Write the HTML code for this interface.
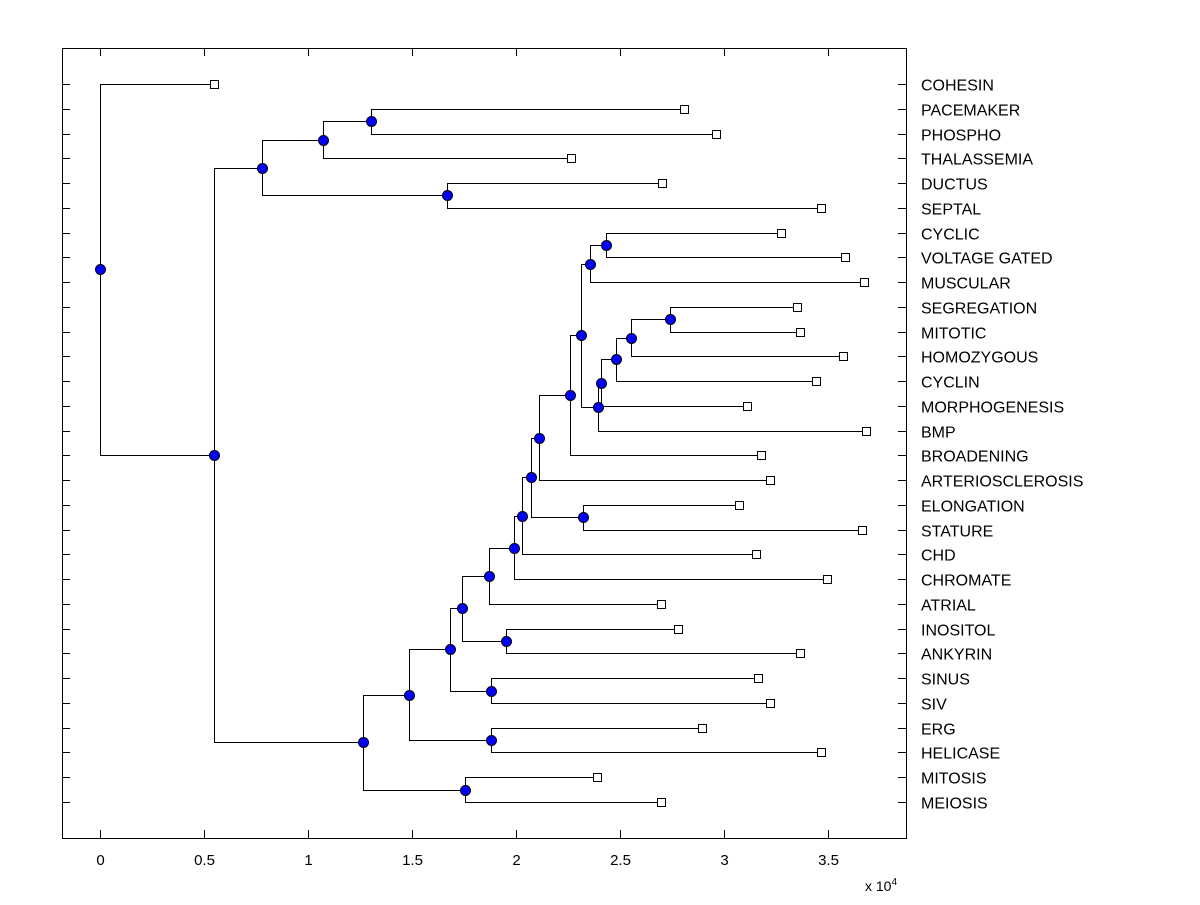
<!DOCTYPE html>
<html><head><meta charset="utf-8"><style>
body{margin:0;background:#fff;}
svg text{font-family:"Liberation Sans",Arial,sans-serif;}
</style></head><body>
<svg id="chart" width="1200" height="900" viewBox="0 0 1200 900" xmlns="http://www.w3.org/2000/svg">
<rect x="0" y="0" width="1200" height="900" fill="#fff"/>
<g id="axes"></g>
<g id="tree"></g>
<g id="marks"></g>
</svg>
<script>
const leafNames=["COHESIN","PACEMAKER","PHOSPHO","THALASSEMIA","DUCTUS","SEPTAL","CYCLIC","VOLTAGE GATED","MUSCULAR","SEGREGATION","MITOTIC","HOMOZYGOUS","CYCLIN","MORPHOGENESIS","BMP","BROADENING","ARTERIOSCLEROSIS","ELONGATION","STATURE","CHD","CHROMATE","ATRIAL","INOSITOL","ANKYRIN","SINUS","SIV","ERG","HELICASE","MITOSIS","MEIOSIS"];
const leafDist=[5480,28080,29620,22640,27020,34660,32740,35820,36730,33510,33650,35720,34420,31110,36830,31780,32210,30720,36630,31540,34950,26970,27790,33650,31630,32210,28940,34660,23890,26970];
// internal nodes: [topChild, bottomChild, distance]; leaves referenced as "L<i>", nodes as "N<i>"
const nodeChildren=[
 ["L1","L2"],     //N0 pace/phos
 ["N0","L3"],     //N1
 ["L4","L5"],     //N2 ductus/septal
 ["N1","N2"],     //N3
 ["L6","L7"],     //N4 cyclic/voltage
 ["N4","L8"],     //N5
 ["L9","L10"],    //N6 seg/mitotic
 ["N6","L11"],    //N7
 ["N7","L12"],    //N8
 ["N8","L13"],    //N9
 ["N9","L14"],    //N10
 ["N5","N10"],    //N11
 ["N11","L15"],   //N12
 ["N12","L16"],   //N13
 ["L17","L18"],   //N14 elong/stature
 ["N13","N14"],   //N15
 ["N15","L19"],   //N16
 ["N16","L20"],   //N17
 ["N17","L21"],   //N18
 ["L22","L23"],   //N19 inositol/ankyrin
 ["N18","N19"],   //N20
 ["L24","L25"],   //N21 sinus/siv
 ["N20","N21"],   //N22
 ["L26","L27"],   //N23 erg/helicase
 ["N22","N23"],   //N24
 ["L28","L29"],   //N25 mitosis/meiosis
 ["N24","N25"],   //N26
 ["N3","N26"],    //N27
 ["L0","N27"]     //N28 root
];
const nodeDist=[13030,10720,16680,7790,24330,23560,27410,25530,24810,24090,23940,23130,22600,21110,23220,20720,20290,19900,18700,19520,17400,18800,16830,18800,14860,17550,12640,5480,0];
const xTickVals=[0,0.5,1,1.5,2,2.5,3,3.5];
const xTickLabels=["0","0.5","1","1.5","2","2.5","3","3.5"];

const NS="http://www.w3.org/2000/svg";
const L=62,R=906,T=48,B=838;
const xs=v=>100+v*208/10000;
const ys=i=>84+i*(802-84)/29;
function mk(tag,attrs,parent){const e=document.createElementNS(NS,tag);for(const k in attrs)e.setAttribute(k,attrs[k]);parent.appendChild(e);return e;}
const axes=document.getElementById('axes'),tree=document.getElementById('tree'),marks=document.getElementById('marks');

const frame=mk('rect',{x:L+0.5,y:T+0.5,width:R-L,height:B-T,fill:'none',stroke:'#000','stroke-width':1},axes);


xTickVals.forEach((v,i)=>{
 const x=Math.round(xs(v*10000))+0.5;
 const t=mk('line',{x1:x,x2:x,y1:B,y2:B-8,stroke:'#000'},axes);
 
 
 const t2=mk('line',{x1:x,x2:x,y1:T,y2:T+8,stroke:'#000'},axes);
 
 
 const lb=mk('text',{x:x,y:B+27,'font-size':15,'text-anchor':'middle'},axes);
 lb.textContent=xTickLabels[i];
 
 
});
const ex=mk('text',{x:865,y:891,'font-size':14},axes);
ex.innerHTML='x 10<tspan dy="-6" font-size="10">4</tspan>';


leafNames.forEach((n,i)=>{
 const y=Math.round(ys(i))+0.5;
 const a=mk('line',{x1:L,x2:L+8,y1:y,y2:y,stroke:'#000'},axes);
 
 
 const b=mk('line',{x1:R-8,x2:R,y1:y,y2:y,stroke:'#000'},axes);
 
 
 const lb=mk('text',{x:921,y:y+6,'font-size':16},axes);
 lb.textContent=n;
 
 
});
function pos(id){
 if(id[0]==='L'){const i=+id.slice(1);return {x:xs(leafDist[i]),y:ys(i)};}
 const i=+id.slice(1);const c=nodeChildren[i];const a=pos(c[0]),b=pos(c[1]);
 return {x:xs(nodeDist[i]),y:(a.y+b.y)/2,a:a,b:b};
}
nodeChildren.forEach((c,i)=>{
 const p=pos('N'+i);
 const px=Math.round(p.x)+0.5;
 [p.a,p.b].forEach(ch=>{
  const cy=Math.round(ch.y)+0.5;
  const pl=mk('polyline',{points:`${px},${Math.round(p.y)+0.5} ${px},${cy} ${Math.round(ch.x)+0.5},${cy}`,fill:'none',stroke:'#000','stroke-width':1},tree);
  
  
 });
});
nodeChildren.forEach((c,i)=>{
 const p=pos('N'+i);
 const ci=mk('circle',{cx:Math.round(p.x)+0.5,cy:Math.round(p.y)+0.5,r:5,fill:'#0000ff',stroke:'#000','stroke-width':1},marks);
 
 
});
leafDist.forEach((d,i)=>{
 const x=Math.round(xs(d))+0.5,y=Math.round(ys(i))+0.5;
 const s=mk('rect',{x:x-4,y:y-4,width:8,height:8,fill:'#fff',stroke:'#000','stroke-width':1},marks);
 
 
});
</script>
</body></html>
